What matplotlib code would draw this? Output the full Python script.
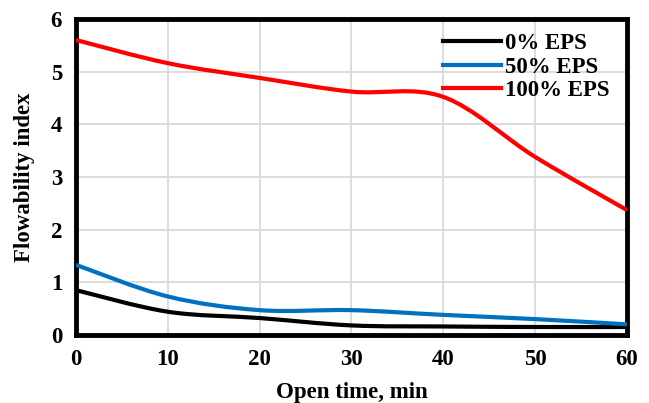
import matplotlib
matplotlib.use("Agg")
import matplotlib.pyplot as plt
from matplotlib.path import Path
from matplotlib.patches import PathPatch
import numpy as np

# Open time (min) and flowability index values
time_min = [0, 10, 20, 30, 40, 50, 60]
eps_0 = [0.85, 0.44, 0.32, 0.18, 0.16, 0.15, 0.15]
eps_50 = [1.33, 0.73, 0.47, 0.47, 0.38, 0.30, 0.20]
eps_100 = [5.60, 5.16, 4.88, 4.62, 4.52, 3.38, 2.37]

series = [("0% EPS", eps_0, "black"),
          ("50% EPS", eps_50, "#0070C0"),
          ("100% EPS", eps_100, "#FF0000")]

plt.rcParams["font.family"] = ["Liberation Serif", "DejaVu Serif"]
plt.rcParams["font.weight"] = "bold"
FS = 16.5


def smooth_path(x, y):
    # Excel-style smoothed line: cubic Bezier through each point
    p = np.column_stack([x, y]).astype(float)
    verts = [p[0]]
    codes = [Path.MOVETO]
    n = len(p)
    for i in range(n - 1):
        p_prev = p[i - 1] if i > 0 else p[i]
        p_next2 = p[i + 2] if i + 2 < n else p[i + 1]
        c1 = p[i] + (p[i + 1] - p_prev) / 6
        c2 = p[i + 1] - (p_next2 - p[i]) / 6
        verts += [c1, c2, p[i + 1]]
        codes += [Path.CURVE4] * 3
    return Path(verts, codes)


fig = plt.figure(figsize=(6.49, 4.03), dpi=100)
ax = fig.add_axes([0.117, 0.169, 0.849, 0.784])

for label, vals, color in series:
    patch = PathPatch(smooth_path(time_min, vals), facecolor="none",
                      edgecolor=color, lw=3, capstyle="butt", zorder=3)
    ax.add_patch(patch)
    ax.plot([], [], color=color, lw=3, label=label)

ax.set_xlim(0, 60)
ax.set_ylim(0, 6)
ax.set_xticks(range(0, 61, 10))
ax.set_yticks(range(0, 7))
ax.grid(True, color="#d9d9d9", lw=1.3)
ax.set_axisbelow(True)
for s in ax.spines.values():
    s.set_linewidth(3.5)
    s.set_color("black")
ax.tick_params(length=0, labelsize=FS, pad=10)

ax.set_xlabel("Open time, min", fontsize=FS, fontweight="bold", labelpad=9)
ax.set_ylabel("Flowability index", fontsize=FS, fontweight="bold", labelpad=11)

ax.legend(loc="upper right", frameon=False, handlelength=2.5,
          handletextpad=0.2, labelspacing=0.1, borderaxespad=0.3,
          bbox_to_anchor=(0.998, 1.005),
          prop={"weight": "bold", "size": FS})

fig.savefig("out.png", dpi=100)
